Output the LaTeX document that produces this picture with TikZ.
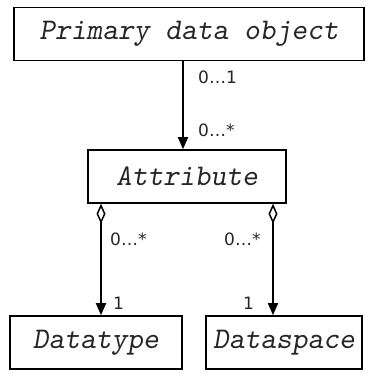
\documentclass[tikz,border=0pt]{standalone}
\usepackage{fontspec}
\newfontfamily\labfont{DejaVu Sans}
\usetikzlibrary{arrows.meta,calc}
\begin{document}
\begin{tikzpicture}[x=1pt,y=-1pt,
  cls/.style={draw=black,line width=1.6pt,fill=white,inner sep=0pt,minimum height=53pt,
    font=\ttfamily\slshape\fontsize{30}{32}\selectfont,text=black!85},
  mult/.style={font=\labfont\fontsize{17}{18}\selectfont,inner sep=0pt,anchor=west,text=black!85},
  assoc/.style={line width=1.8pt,-{Triangle[length=12pt,width=10pt]}},
  aggr/.style={line width=1.8pt,{Diamond[open,length=20pt,width=9pt,line width=1.5pt]}-{Triangle[length=12pt,width=10pt]}}
]
\useasboundingbox[fill=white] (0,0) rectangle (381,377);
\node[cls,minimum width=350pt] (prim) at (189,34) {Primary data object};
\node[cls,minimum width=198pt] (attr) at (187,176.5) {Attribute};
\node[cls,minimum width=172pt] (dtype) at (96,342.5) {Datatype};
\node[cls,minimum width=156pt] (dspace) at (284,342.5) {Dataspace};

\draw[assoc] (prim.south -| 183,0) -- (attr.north -| 183,0);
\draw[aggr] (attr.south -| 101,0) -- (dtype.north -| 101,0);
\draw[aggr] (attr.south -| 273,0) -- (dspace.north -| 273,0);

\node[mult] (m1) at (198,77) {0…1};
\node[mult] (m2) at (198,130) {0…*};
\node[mult] (m3) at (110,239) {0…*};
\node[mult] (m4) at (224,239) {0…*};
\node[mult] (m5) at (113,303) {1};
\node[mult] (m6) at (243,303) {1};
\end{tikzpicture}
\end{document}
